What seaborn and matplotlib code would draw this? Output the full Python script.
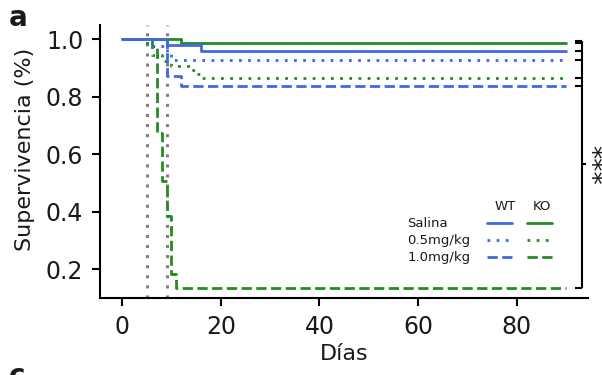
import numpy as np
import pandas as pd
import matplotlib
matplotlib.use("Agg")
import matplotlib.pyplot as plt
import seaborn as sns
from matplotlib.lines import Line2D

# ---- data ----
genotypes = ["WT", "KO"]
doses = ["Salina", "0.5mg/kg", "1.0mg/kg"]

wt_sal_t = [0, 9, 16, 90]
wt_sal_s = [1.0, 0.979, 0.958, 0.958]
ko_sal_t = [0, 12, 90]
ko_sal_s = [1.0, 0.987, 0.987]
wt_05_t = [0, 6, 9, 10, 90]
wt_05_s = [1.0, 0.976, 0.952, 0.929, 0.929]
ko_05_t = [0, 5, 6, 8, 10, 14, 15, 16, 90]
ko_05_s = [1.0, 0.98, 0.945, 0.925, 0.906, 0.892, 0.878, 0.865, 0.865]
wt_10_t = [0, 9, 12, 90]
wt_10_s = [1.0, 0.873, 0.836, 0.836]
ko_10_t = [0, 6, 7, 8, 9, 10, 11, 90]
ko_10_s = [1.0, 0.975, 0.675, 0.508, 0.386, 0.183, 0.135, 0.135]

treatment_days = [5, 9]
sig_label = "***"

curves = {
    ("WT", "Salina"): (wt_sal_t, wt_sal_s),
    ("KO", "Salina"): (ko_sal_t, ko_sal_s),
    ("WT", "0.5mg/kg"): (wt_05_t, wt_05_s),
    ("KO", "0.5mg/kg"): (ko_05_t, ko_05_s),
    ("WT", "1.0mg/kg"): (wt_10_t, wt_10_s),
    ("KO", "1.0mg/kg"): (ko_10_t, ko_10_s),
}
rows = []
for (g, d), (t, s) in curves.items():
    for ti, si in zip(t, s):
        rows.append({"genotype": g, "dose": d, "day": ti, "surv": si})
df = pd.DataFrame(rows)

# ---- styling ----
sns.set_theme(style="ticks")
plt.rcParams["font.family"] = ["DejaVu Sans"]
palette = {"WT": "#4169E1", "KO": "#228B22"}
dash_map = {"Salina": "", "0.5mg/kg": (1, 2.3), "1.0mg/kg": (3.7, 1.6)}
txt_col = "#1a1a1a"

fig = plt.figure(figsize=(6.02, 3.75), dpi=100)
ax = fig.add_axes([0.166, 0.205, 0.811, 0.728])

for d in treatment_days:
    ax.axvline(d, color="#808080", lw=2.2, dashes=(1, 2.3), zorder=1)

# draw KO first so WT lies on top where they overlap
for g in ["KO", "WT"]:
    sub = df[df.genotype == g]
    sns.lineplot(data=sub, x="day", y="surv", hue="genotype", style="dose",
                 palette=palette, dashes=dash_map, drawstyle="steps-post",
                 estimator=None, lw=2, legend=False, ax=ax, zorder=3)

ax.set_xlim(-4.5, 94.5)
ax.set_ylim(0.099, 1.049)
ax.set_xticks([0, 20, 40, 60, 80])
ax.set_yticks([0.2, 0.4, 0.6, 0.8, 1.0])
ax.tick_params(labelsize=17, width=1.5, length=6, pad=6, color="black", labelcolor=txt_col)
for sp in ["left", "bottom"]:
    ax.spines[sp].set_linewidth(1.5)
    ax.spines[sp].set_color("black")
sns.despine(ax=ax)
ax.set_xlabel("Días", fontsize=16, labelpad=4, color=txt_col)
ax.set_ylabel("Supervivencia (%)", fontsize=16, color=txt_col)
ax.yaxis.set_label_coords(-0.133, 0.545)

# ---- significance bracket ----
finals = [s[-1] for (t, s) in curves.values()]
top, bot = max(finals) + 0.006, min(finals)
xb, xt = 93.3, 91.9
kw = dict(color="black", lw=1.5, clip_on=False, solid_capstyle="butt")
ax.plot([xb, xb], [bot, top], **kw)
for v in finals:
    ax.plot([xt, xb], [v, v], **kw)
ax.plot([xt, xb], [top, top], **kw)
mid = (top + bot) / 2
ax.plot([xb, xb + 0.7], [mid, mid], **kw)
ax.text(xb + 1.4, mid, sig_label, rotation=270, ha="center", va="center",
        fontsize=19, clip_on=False, color=txt_col)

# ---- custom legend table ----
def ay(px):
    return (298 - px) / 273.0

def axx(px):
    return (px - 100) / 488.0

fs_leg = 9.5
ax.text(axx(505), ay(206), "WT", transform=ax.transAxes, ha="center", va="center", fontsize=fs_leg, color=txt_col)
ax.text(axx(542), ay(206), "KO", transform=ax.transAxes, ha="center", va="center", fontsize=fs_leg, color=txt_col)
row_px = {"Salina": 223, "0.5mg/kg": 240, "1.0mg/kg": 257}
for d in doses:
    yy = ay(row_px[d])
    ax.text(axx(407), yy, d, transform=ax.transAxes, ha="left", va="center", fontsize=fs_leg, color=txt_col)
    for g, (x0, x1) in zip(genotypes, [(487, 512), (527, 552)]):
        ln = Line2D([axx(x0), axx(x1)], [yy, yy], transform=ax.transAxes,
                    color=palette[g], lw=2)
        if dash_map[d]:
            ln.set_dashes(dash_map[d])
        ax.add_line(ln)

fig.text(0.015, 0.99, "a", fontsize=20, fontweight="bold", va="top", ha="left", color=txt_col)
fig.text(0.015, 0.035, "c", fontsize=20, fontweight="bold", va="top", ha="left", color=txt_col)

fig.savefig("out.png", dpi=100)
